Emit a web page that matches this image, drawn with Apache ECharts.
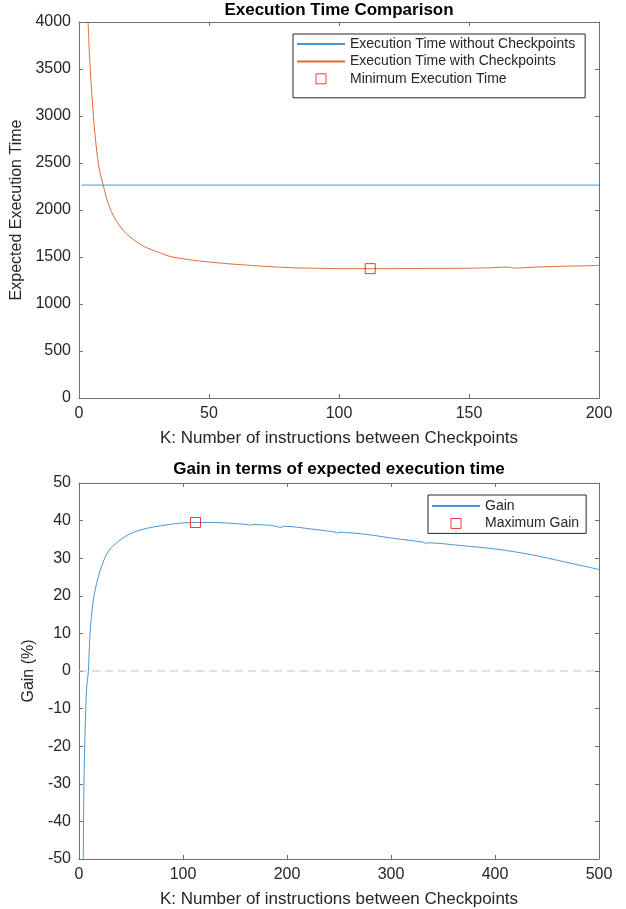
<!DOCTYPE html>
<html>
<head>
<meta charset="utf-8">
<script src="https://cdn.jsdelivr.net/npm/echarts@6/dist/echarts.min.js"></script>
<style>
	html, body { margin: 0; padding: 0; background: #fff; }
	#chart { width: 626px; height: 909px; }
</style>
</head>
<body>
<div id="chart"></div>
<script type="text/javascript">
    // top plot: expected execution time vs K
    var timeK = [3.5, 3.9, 4.5, 5.1, 6.1, 7.6, 9.3, 10.8, 13.1, 15.7, 19.5, 25.2, 30.6, 35.5, 43.8, 49, 56.7, 69.3, 77, 85, 92, 100, 112, 125, 137, 148, 158, 165, 167, 175, 185, 193, 200];
    var timeWith = [4000, 3720, 3420, 3170, 2817, 2461, 2265, 2106, 1945, 1830, 1716, 1610, 1550, 1503, 1466, 1450, 1430, 1404, 1392, 1383, 1380, 1376, 1376, 1377, 1379, 1380, 1385, 1393, 1382, 1392, 1401, 1405, 1411];
    var noCkptK = [1, 200];
    var noCkptTime = [2265, 2265];
    var minTime = [112, 1376];

    // bottom plot: gain (%)
    var gainK = [4.1, 4.8, 5.8, 7.4, 9, 10.6, 13.8, 18.6, 25, 31, 39.4, 47, 55.5, 66, 77.9, 97, 112, 126, 145, 163, 164.5, 166, 185, 195, 197, 225, 247, 248, 250, 277, 302, 332, 333, 335, 369.5, 401.6, 433.7, 465.7, 500];
    var gainVal = [-50, -29, -16.6, -4.2, -0.2, 10, 18.9, 25.1, 30.2, 32.8, 34.8, 36.2, 37.2, 38.0, 38.6, 39.3, 39.5, 39.5, 39.3, 38.9, 38.6, 39.0, 38.7, 38.2, 38.5, 37.7, 36.9, 36.6, 36.9, 36.3, 35.3, 34.2, 33.8, 34.1, 33.3, 32.4, 31.0, 29.1, 27.0];
    var zeroK = [0, 500];
    var zeroVal = [0, 0];
    var maxGain = [112, 39.5];

    function pairs(xs, ys) {
        var out = [];
        for (var i = 0; i < xs.length; i++) out.push([xs[i], ys[i]]);
        return out;
    }

    var blue = '#4a96d2';
    var orange = '#e06a3a';
    var axisColor = '#707070';
    var txt = '#262626';
    var fontF = '"Liberation Sans", Arial, sans-serif';

    function xAx(grid, pos, min, max, step, name) {
        return {
            type: 'value', gridIndex: grid, position: pos, min: min, max: max, interval: step,
            name: name || '', nameLocation: 'middle', nameGap: 32,
            nameTextStyle: { color: txt, fontSize: 17, fontFamily: fontF },
            axisLine: { show: true, onZero: false, lineStyle: { color: axisColor, width: 1 } },
            axisTick: { show: true, inside: true, length: 4, lineStyle: { color: axisColor } },
            axisLabel: { show: pos === 'bottom', color: txt, fontSize: 16, fontFamily: fontF, margin: 8,
                         formatter: function (v) { return String(v); } },
            splitLine: { show: false }
        };
    }
    function yAx(grid, pos, min, max, step, name, gap) {
        return {
            type: 'value', gridIndex: grid, position: pos, min: min, max: max, interval: step,
            name: name || '', nameLocation: 'middle', nameGap: gap || 0,
            nameTextStyle: { color: txt, fontSize: 16, fontFamily: fontF },
            axisLine: { show: true, onZero: false, lineStyle: { color: axisColor, width: 1 } },
            axisTick: { show: true, inside: true, length: 4, lineStyle: { color: axisColor } },
            axisLabel: { show: pos === 'left', color: txt, fontSize: 16, fontFamily: fontF, margin: 8,
                         formatter: function (v) { return String(v); } },
            splitLine: { show: false }
        };
    }

    var legendBase = {
        orient: 'vertical',
        itemWidth: 48,
        itemHeight: 10,
        itemGap: 3.4,
        borderColor: '#262626',
        borderWidth: 1,
        backgroundColor: '#fff',
        textStyle: { color: txt, fontSize: 14, fontFamily: fontF },
        selectedMode: false
    };
    var squareIcon = { icon: 'path://M0,0H10V10H0Z', itemStyle: { color: 'rgba(0,0,0,0)', borderColor: '#ff0000', borderWidth: 1 } };

    var myChart = echarts.init(document.getElementById('chart'), null, { renderer: 'canvas' });
    var option = {
        animation: false,
        backgroundColor: '#fff',
        title: [
            { text: 'Execution Time Comparison', left: 339, top: 2, padding: 0, textAlign: 'center',
              textStyle: { color: '#000', fontSize: 17, fontWeight: 'bold', fontFamily: fontF } },
            { text: 'Gain in terms of expected execution time', left: 339, top: 461, padding: 0, textAlign: 'center',
              textStyle: { color: '#000', fontSize: 17, fontWeight: 'bold', fontFamily: fontF } }
        ],
        legend: [
            Object.assign({}, legendBase, {
                left: 293, top: 34, padding: [3, 10, 12, 3],
                data: [
                    { name: 'Execution Time without Checkpoints', itemStyle: { opacity: 0 } },
                    { name: 'Execution Time with Checkpoints', itemStyle: { opacity: 0 } },
                    Object.assign({ name: 'Minimum Execution Time' }, squareIcon)
                ]
            }),
            Object.assign({}, legendBase, {
                left: 428, top: 495, padding: [4, 7, 3, 3],
                data: [
                    { name: 'Gain', itemStyle: { opacity: 0 } },
                    Object.assign({ name: 'Maximum Gain' }, squareIcon)
                ]
            })
        ],
        grid: [
            { left: 79, top: 22, width: 520, height: 376 },
            { left: 79, top: 483, width: 520, height: 376 }
        ],
        xAxis: [
            xAx(0, 'bottom', 0, 200, 50, 'K: Number of instructions between Checkpoints'),
            xAx(0, 'top', 0, 200, 50),
            xAx(1, 'bottom', 0, 500, 100, 'K: Number of instructions between Checkpoints'),
            xAx(1, 'top', 0, 500, 100)
        ],
        yAxis: [
            yAx(0, 'left', 0, 4000, 500, 'Expected Execution Time', 47),
            yAx(0, 'right', 0, 4000, 500),
            yAx(1, 'left', -50, 50, 10, 'Gain (%)', 32),
            yAx(1, 'right', -50, 50, 10)
        ],
        series: [
            {
                name: 'Execution Time without Checkpoints', type: 'line',
                xAxisIndex: 0, yAxisIndex: 0, symbol: 'none', color: blue,
                lineStyle: { color: blue, width: 1 },
                data: pairs(noCkptK, noCkptTime)
            },
            {
                name: 'Execution Time with Checkpoints', type: 'line',
                xAxisIndex: 0, yAxisIndex: 0, symbol: 'none', color: orange, smooth: 0.3,
                lineStyle: { color: orange, width: 1 },
                data: pairs(timeK, timeWith)
            },
            {
                name: 'Minimum Execution Time', type: 'scatter',
                xAxisIndex: 0, yAxisIndex: 0, symbol: 'rect', symbolSize: 10,
                itemStyle: { color: 'rgba(0,0,0,0)', borderColor: '#ff0000', borderWidth: 1 },
                data: [minTime], z: 5
            },
            {
                name: 'Gain', type: 'line',
                xAxisIndex: 2, yAxisIndex: 2, symbol: 'none', color: blue, smooth: 0.3,
                lineStyle: { color: blue, width: 1 },
                data: pairs(gainK, gainVal)
            },
            {
                name: 'zero', type: 'line',
                xAxisIndex: 2, yAxisIndex: 2, symbol: 'none', silent: true,
                lineStyle: { color: '#eeb39a', width: 1, type: [8, 5] },
                data: pairs(zeroK, zeroVal), z: 1
            },
            {
                name: 'Maximum Gain', type: 'scatter',
                xAxisIndex: 2, yAxisIndex: 2, symbol: 'rect', symbolSize: 10,
                itemStyle: { color: 'rgba(0,0,0,0)', borderColor: '#ff0000', borderWidth: 1 },
                data: [maxGain], z: 5
            }
        ]
    };
    myChart.setOption(option);
</script>
</body>
</html>
